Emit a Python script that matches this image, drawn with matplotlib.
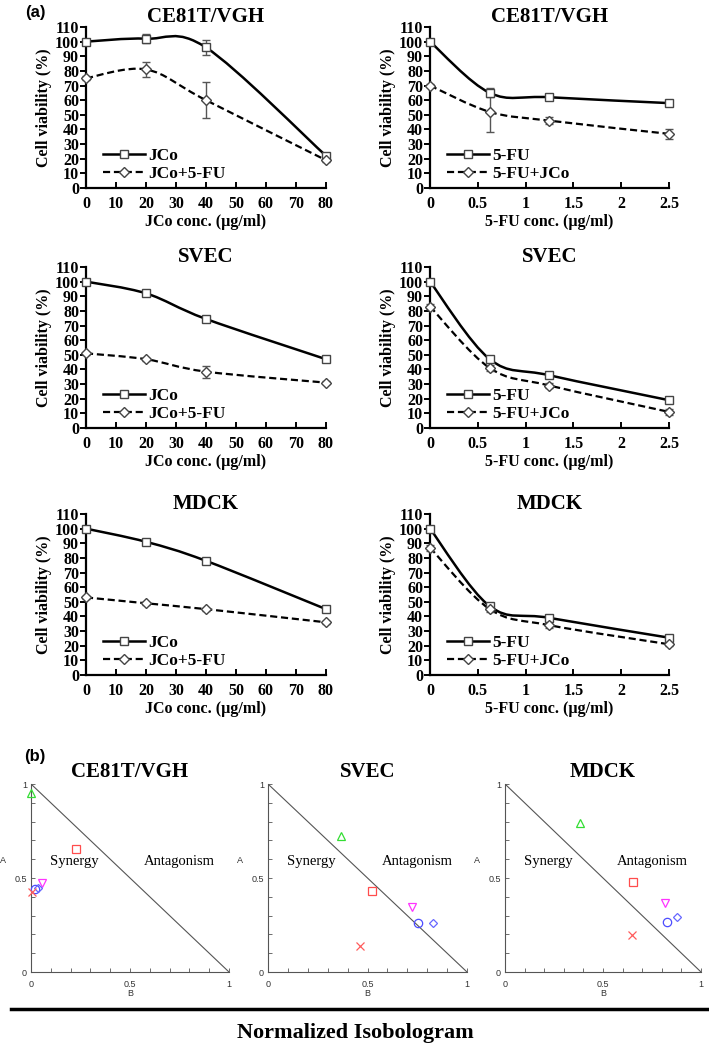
import numpy as np
import matplotlib
matplotlib.use("Agg")
import matplotlib.pyplot as plt
from matplotlib.path import Path
from matplotlib.patches import PathPatch
from matplotlib.lines import Line2D
from matplotlib.ticker import MultipleLocator

plt.rcParams["font.family"] = ["Liberation Serif", "DejaVu Serif"]

# ── data: cell viability (%) ──────────────────────────────────────────────────
JCO_CONC = [0, 20, 40, 80]
FU_CONC = [0, 0.625, 1.25, 2.5]

ce81_jco         = [100, 102, 96, 22]
ce81_jco_err     = [2, 3, 5, 2]
ce81_jco_fu      = [75, 81, 60, 19]
ce81_jco_fu_err  = [1.5, 5, 12.5, 1]
ce81_fu          = [100, 65, 62, 58]
ce81_fu_err      = [2, 3, 2, 1.5]
ce81_fu_jco      = [70, 52, 46, 37]
ce81_fu_jco_err  = [1, 14, 2.5, 3.5]

svec_jco         = [100, 92, 74.5, 47]
svec_jco_err     = [1.5, 1, 1.5, 1.5]
svec_jco_fu      = [51, 47, 38.5, 31]
svec_jco_fu_err  = [1, 1, 4, 1]
svec_fu          = [100, 47, 36, 19]
svec_fu_err      = [2, 2, 2, 1.5]
svec_fu_jco      = [83, 41, 29, 11]
svec_fu_jco_err  = [2, 2, 2, 2]

mdck_jco         = [100, 91, 78, 45]
mdck_jco_err     = [1.5, 1.5, 1.5, 1.5]
mdck_jco_fu      = [53, 49, 45, 36]
mdck_jco_fu_err  = [1, 1, 1, 1]
mdck_fu          = [100, 47, 39, 25.5]
mdck_fu_err      = [2, 2, 2, 2]
mdck_fu_jco      = [87, 45, 34, 21]
mdck_fu_jco_err  = [2, 2, 2, 1.5]

CELL_LINES = ["CE81T/VGH", "SVEC", "MDCK"]

# ── data: normalized isobologram points (B, A) ───────────────────────────────
iso_ce81_b = [0.0, 0.227, 0.057, 0.022, 0.034, 0.007]
iso_ce81_a = [0.952, 0.654, 0.472, 0.440, 0.448, 0.424]
iso_svec_b = [0.365, 0.524, 0.724, 0.754, 0.831, 0.462]
iso_svec_a = [0.723, 0.432, 0.347, 0.259, 0.259, 0.138]
iso_mdck_b = [0.383, 0.651, 0.818, 0.827, 0.879, 0.648]
iso_mdck_a = [0.794, 0.480, 0.365, 0.264, 0.291, 0.197]

ISO_MARKERS = ["^", "s", "v", "o", "D", "x"]
ISO_COLORS = ["#33dd33", "#ff4c4c", "#ff33ff", "#4c4cff", "#6666ff", "#ff5c5c"]
ISO_SIZES = [6, 6, 6, 6, 4.5, 6]

W, H = 709, 1047


def px_axes(fig, x0, x1, ytop, ybot):
    return fig.add_axes([x0 / W, 1 - ybot / H, (x1 - x0) / W, (ybot - ytop) / H])


# ── Excel-like smoothed line (Bezier through data points) ───────────────────
def smooth_path(xs, ys):
    pts = np.column_stack([xs, ys]).astype(float)
    n = len(pts)
    verts, codes = [pts[0]], [Path.MOVETO]
    for i in range(n - 1):
        p0 = pts[i - 1] if i > 0 else pts[i]
        p3 = pts[i + 2] if i + 2 < n else pts[i + 1]
        c1 = pts[i] + (pts[i + 1] - p0) / 6.0
        c2 = pts[i + 1] - (p3 - pts[i]) / 6.0
        verts += [c1, c2, pts[i + 1]]
        codes += [Path.CURVE4] * 3
    return Path(verts, codes)


DASH = (0, (3.2, 1.7))
BOLD = dict(fontweight="bold")


def viability_panel(ax, title, conc, single, single_err, combo, combo_err,
                    labels, xlabel, xmax, xstep, xfmt):
    ax.add_patch(PathPatch(smooth_path(conc, single), fill=False,
                           lw=1.8, color="black", zorder=2))
    ax.add_patch(PathPatch(smooth_path(conc, combo), fill=False,
                           lw=1.6, color="black", linestyle=DASH, zorder=2))
    ax.errorbar(conc, single, yerr=single_err, fmt="s", ms=6, mfc="white",
                mec="#444444", mew=1.0, ecolor="#555555", elinewidth=1,
                capsize=3, zorder=3, clip_on=False)
    ax.errorbar(conc, combo, yerr=combo_err, fmt="D", ms=5, mfc="white",
                mec="#444444", mew=1.0, ecolor="#555555", elinewidth=1,
                capsize=3, zorder=3, clip_on=False)

    ax.set_xlim(0, xmax)
    ax.set_ylim(0, 110)
    ax.xaxis.set_major_locator(MultipleLocator(xstep))
    ax.yaxis.set_major_locator(MultipleLocator(10))
    ax.set_xticklabels([xfmt(t) for t in ax.get_xticks()])
    for sp in ["top", "right"]:
        ax.spines[sp].set_visible(False)
    for sp in ["left", "bottom"]:
        ax.spines[sp].set_linewidth(1.6)
    ax.tick_params(axis="y", direction="out", length=4, width=1.4, pad=1,
                   labelsize=11.5)
    ax.tick_params(axis="x", direction="in", length=4, width=1.4, pad=6,
                   labelsize=11.5)
    for lab in ax.get_xticklabels() + ax.get_yticklabels():
        lab.set_fontweight("bold")
    ax.set_title(title, fontsize=15, pad=3, **BOLD)
    ax.set_ylabel("Cell viability (%)", fontsize=11.5, labelpad=2, **BOLD)
    ax.set_xlabel(xlabel, fontsize=11.5, labelpad=1, **BOLD)

    handles = [
        Line2D([], [], color="black", lw=1.8, marker="s", ms=6, mfc="white",
               mec="#444444"),
        Line2D([], [], color="black", lw=1.6, linestyle=DASH, marker="D",
               ms=5, mfc="white", mec="#444444"),
    ]
    ax.legend(handles, labels, loc="lower left", bbox_to_anchor=(0.02, -0.04),
              frameon=False, handlelength=2.4, handletextpad=0.2,
              labelspacing=0.1, borderpad=0.2,
              prop={"size": 12.5, "weight": "bold"})


fig = plt.figure(figsize=(W / 100, H / 100), dpi=100)

rows = [(27, 188), (267, 428), (514, 675)]
left_data = [
    (ce81_jco, ce81_jco_err, ce81_jco_fu, ce81_jco_fu_err),
    (svec_jco, svec_jco_err, svec_jco_fu, svec_jco_fu_err),
    (mdck_jco, mdck_jco_err, mdck_jco_fu, mdck_jco_fu_err),
]
right_data = [
    (ce81_fu, ce81_fu_err, ce81_fu_jco, ce81_fu_jco_err),
    (svec_fu, svec_fu_err, svec_fu_jco, svec_fu_jco_err),
    (mdck_fu, mdck_fu_err, mdck_fu_jco, mdck_fu_jco_err),
]

for (ytop, ybot), name, ld, rd in zip(rows, CELL_LINES, left_data, right_data):
    axl = px_axes(fig, 86, 326, ytop, ybot)
    viability_panel(axl, name, JCO_CONC, *ld, ["JCo", "JCo+5-FU"],
                    "JCo conc. (\u00b5g/ml)", 80, 10, lambda t: f"{t:g}")
    axr = px_axes(fig, 430, 669, ytop, ybot)
    viability_panel(axr, name, FU_CONC, *rd, ["5-FU", "5-FU+JCo"],
                    "5-FU conc. (\u00b5g/ml)", 2.5, 0.5, lambda t: f"{t:g}")

fig.text(35 / W, 1 - 13 / H, "(a)", family="Liberation Sans", fontsize=12,
         fontweight="bold", ha="center", va="center")
fig.text(35 / W, 1 - 757 / H, "(b)", family="Liberation Sans", fontsize=12,
         fontweight="bold", ha="center", va="center")

# ── isobolograms ─────────────────────────────────────────────────────────────
iso_cols = [(31, 229), (268, 467), (505, 701)]
iso_pts = [(iso_ce81_b, iso_ce81_a), (iso_svec_b, iso_svec_a),
           (iso_mdck_b, iso_mdck_a)]

for (x0, x1), name, (bvals, avals) in zip(iso_cols, CELL_LINES, iso_pts):
    ax = px_axes(fig, x0, x1, 784, 972)
    ax.plot([0, 1], [1, 0], color="#555555", lw=0.8, zorder=1)
    for b, a, m, c, s in zip(bvals, avals, ISO_MARKERS, ISO_COLORS, ISO_SIZES):
        ax.plot(b, a, marker=m, ms=s, mfc="none", mec=c, mew=0.9,
                linestyle="none", clip_on=False, zorder=3)
    ax.set_xlim(0, 1)
    ax.set_ylim(0, 1)
    ax.xaxis.set_major_locator(MultipleLocator(0.5))
    ax.yaxis.set_major_locator(MultipleLocator(0.5))
    ax.xaxis.set_minor_locator(MultipleLocator(0.1))
    ax.yaxis.set_minor_locator(MultipleLocator(0.1))
    ax.set_xticklabels([f"{t:g}" for t in ax.get_xticks()])
    ax.set_yticklabels([f"{t:g}" for t in ax.get_yticks()])
    for sp in ["top", "right"]:
        ax.spines[sp].set_visible(False)
    for sp in ["left", "bottom"]:
        ax.spines[sp].set_linewidth(0.8)
        ax.spines[sp].set_color("#555555")
    ax.tick_params(which="both", direction="in", length=3, width=0.6,
                   color="#555555", labelsize=6.5, labelcolor="#333333")
    ax.tick_params(axis="x", which="both", pad=6)
    ax.tick_params(axis="y", which="both", pad=3)
    for lab in ax.get_xticklabels() + ax.get_yticklabels():
        lab.set_family("Liberation Sans")
    ax.set_xlabel("B", family="Liberation Sans", fontsize=6.5,
                  color="#333333", labelpad=0)
    ax.set_ylabel("A", family="Liberation Sans", fontsize=6.5,
                  color="#333333", rotation=0)
    ax.yaxis.set_label_coords(-0.141, 0.57)
    ax.text(0.22, 0.59, "Synergy", fontsize=10.5, ha="center", va="center")
    ax.text(0.75, 0.59, "Antagonism", fontsize=10.5, ha="center", va="center")
    ax.set_title(name, fontsize=15, pad=5, **BOLD)

fig.add_artist(Line2D([11 / W, 1.0], [1 - 1009 / H] * 2, lw=2.5,
                      color="black", transform=fig.transFigure))
fig.text(355 / W, 1 - 1033 / H, "Normalized Isobologram", fontsize=16,
         fontweight="bold", ha="center", va="center")

fig.savefig("out.png", dpi=100)
